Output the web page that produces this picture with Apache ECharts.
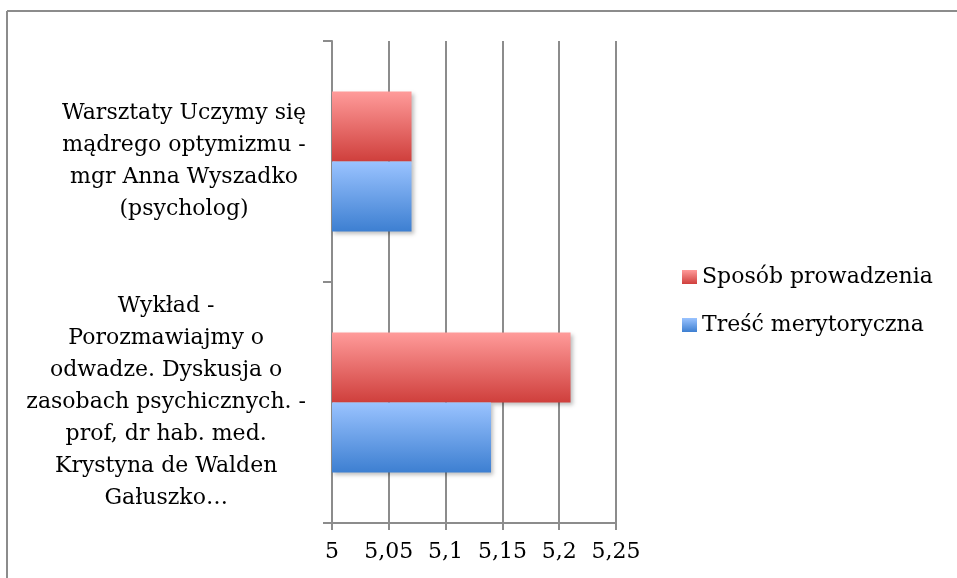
<!DOCTYPE html>
<html>
<head>
<meta charset="utf-8">
<script src="https://cdn.jsdelivr.net/npm/echarts@6/dist/echarts.min.js"></script>
<style>
  html, body { margin: 0; padding: 0; background: #ffffff; }
  #chart { width: 957px; height: 578px; }
</style>
</head>
<body>
<div id="chart"></div>
<script>
// kategorie (od dołu do góry, jak na osi)
const categories = [
  'Wykład -\nPorozmawiajmy o\nodwadze. Dyskusja o\nzasobach psychicznych. -\nprof, dr hab. med.\nKrystyna de Walden\nGałuszko…',
  'Warsztaty Uczymy się\nmądrego optymizmu -\nmgr Anna Wyszadko\n(psycholog)'
];
const seriesNames = ['Sposób prowadzenia', 'Treść merytoryczna'];
const sposobValues = [5.21, 5.07];
const trescValues = [5.14, 5.07];
const xTicks = [5, 5.05, 5.1, 5.15, 5.2, 5.25];

const font = 'DejaVu Serif';

let chart = echarts.init(document.getElementById('chart'));

// gradienty jak w Excelu
const redFill = new echarts.graphic.LinearGradient(0, 0, 0, 1, [
  {offset: 0, color: '#ff9b9a'},
  {offset: 1, color: '#cf3f3c'}
]);
const blueFill = new echarts.graphic.LinearGradient(0, 0, 0, 1, [
  {offset: 0, color: '#9ac3ff'},
  {offset: 1, color: '#3d7fd1'}
]);
const shadow = {shadowColor: 'rgba(0,0,0,0.25)', shadowBlur: 4, shadowOffsetX: 2, shadowOffsetY: 2};

chart.setOption({
  animation: false,
  textStyle: {fontFamily: font},
  graphic: [
    {type: 'line', shape: {x1: 7, y1: 11, x2: 7, y2: 578}, style: {stroke: '#8c8c8c', lineWidth: 2}},
    {type: 'line', shape: {x1: 7, y1: 11, x2: 957, y2: 11}, style: {stroke: '#8c8c8c', lineWidth: 2}}
  ],
  grid: {left: 332, right: 341, top: 41, bottom: 55, containLabel: false},
  legend: {
    orient: 'vertical',
    left: 682,
    top: 266,
    padding: 0,
    icon: 'rect',
    itemWidth: 15,
    itemHeight: 14,
    itemGap: 26,
    data: seriesNames,
    textStyle: {fontFamily: font, fontSize: 22, color: '#000', lineHeight: 22}
  },
  xAxis: {
    type: 'value',
    min: xTicks[0],
    max: xTicks[xTicks.length - 1],
    interval: 0.05,
    axisLine: {show: true, lineStyle: {color: '#8c8c8c', width: 2}},
    axisTick: {show: true, length: 7, lineStyle: {color: '#8c8c8c', width: 2}},
    splitLine: {show: true, lineStyle: {color: '#8c8c8c', width: 2}},
    axisLabel: {
      margin: 18,
      fontFamily: font,
      fontSize: 22,
      color: '#000',
      formatter: v => String(Math.round(v * 100) / 100).replace('.', ',')
    }
  },
  yAxis: {
    type: 'category',
    data: categories,
    axisLine: {show: true, lineStyle: {color: '#8c8c8c', width: 2}},
    axisTick: {show: true, length: 9, lineStyle: {color: '#8c8c8c', width: 2}},
    splitLine: {show: false},
    axisLabel: {
      margin: 26,
      fontFamily: font,
      fontSize: 22,
      color: '#000',
      lineHeight: 32,
      formatter: v => v.split('\n').map(s => '{c|' + s + '}').join('\n'),
      rich: {c: {align: 'center', fontFamily: font, fontSize: 22, lineHeight: 32, color: '#000'}}
    }
  },
  series: [
    {
      name: seriesNames[0],
      type: 'bar',
      data: sposobValues,
      barWidth: 70,
      barGap: '0%',
      itemStyle: Object.assign({color: redFill}, shadow)
    },
    {
      name: seriesNames[1],
      type: 'bar',
      data: trescValues,
      barWidth: 70,
      barGap: '0%',
      itemStyle: Object.assign({color: blueFill}, shadow)
    }
  ]
});
</script>
</body>
</html>
